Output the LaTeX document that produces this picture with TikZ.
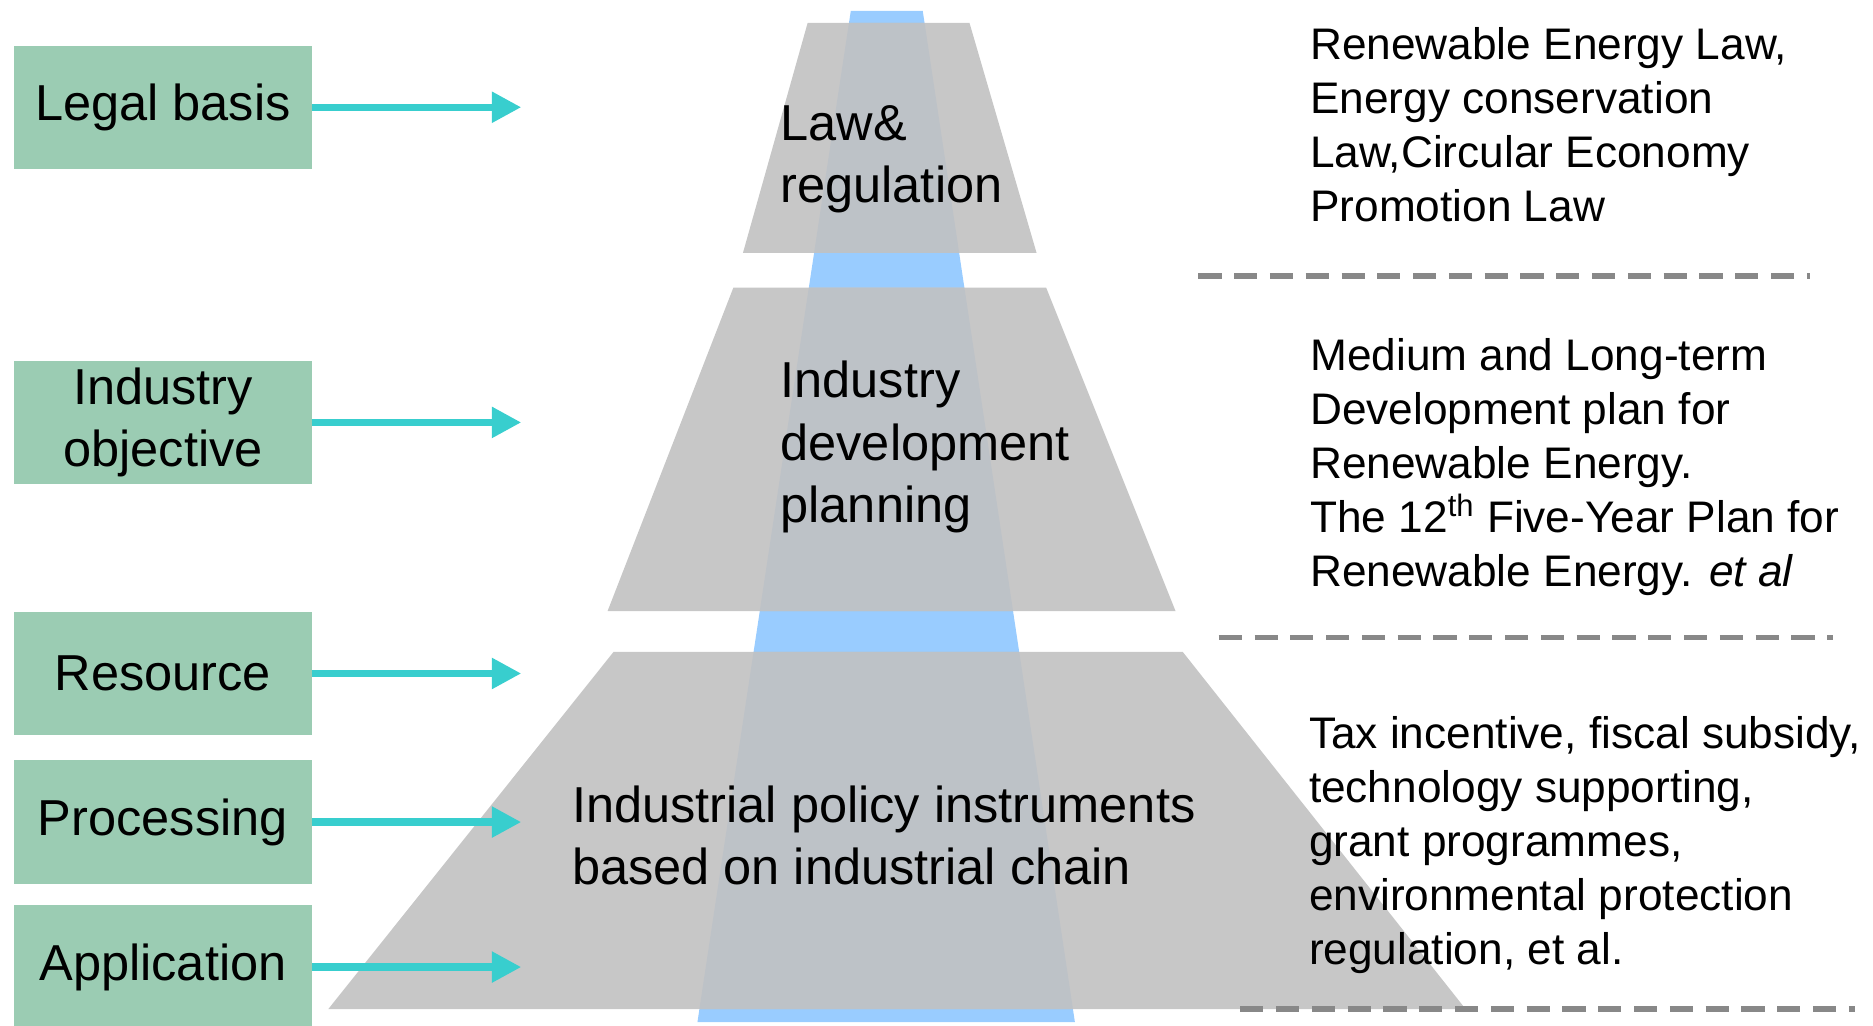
\documentclass[tikz,border=0pt]{standalone}
\usepackage{fontspec}
\setmainfont{Liberation Sans}
\usetikzlibrary{arrows.meta}
\definecolor{boxgreen}{RGB}{155,204,179}
\definecolor{arrcyan}{RGB}{56,206,206}
\definecolor{pyrgray}{RGB}{199,199,199}
\definecolor{colblue}{RGB}{153,204,255}
\definecolor{overlapc}{RGB}{189,194,199}
\definecolor{dashgray}{RGB}{136,136,136}
\begin{document}
\begin{tikzpicture}[x=0.02cm,y=-0.02cm,
  lbox/.style={fill=boxgreen,minimum width=4.96cm,minimum height=2.06cm,inner sep=0pt,align=center,font=\fontsize{24}{29.6}\selectfont},
  arr/.style={arrcyan,line width=3.4pt,-{Triangle[length=14pt,width=14pt]}},
  ptext/.style={anchor=west,align=left,inner sep=0pt,font=\fontsize{24}{29.6}\selectfont},
  rtext/.style={anchor=west,align=left,inner sep=0pt,font=\fontsize{21}{25.6}\selectfont},
  sep/.style={dashgray,line width=2.8pt,dash pattern=on 11pt off 6pt}]
\useasboundingbox (0,0) rectangle (1563,856);
% column and pyramid
\fill[colblue] (710,9) -- (770,9) -- (897,853) -- (582,853) -- cycle;
\fill[pyrgray] (674,19) -- (809,19) -- (865,211) -- (620,211) -- cycle;
\fill[pyrgray] (612,240) -- (873,240) -- (981,510) -- (507,510) -- cycle;
\fill[pyrgray] (512,544) -- (987,544) -- (1223,842) -- (274,842) -- cycle;
\begin{scope}
\clip (710,9) -- (770,9) -- (897,853) -- (582,853) -- cycle;
\fill[overlapc] (674,19) -- (809,19) -- (865,211) -- (620,211) -- cycle;
\fill[overlapc] (612,240) -- (873,240) -- (981,510) -- (507,510) -- cycle;
\fill[overlapc] (512,544) -- (987,544) -- (1223,842) -- (274,842) -- cycle;
\end{scope}
% separators
\draw[sep] (1000,230) -- (1510,230);
\draw[sep] (1017,532) -- (1530,532);
\draw[sep] (1035,842) -- (1548,842);
% left boxes
\node[lbox] (legal) at (136,89.5) {Legal basis};
\node[lbox] (objective) at (136,352.5) {Industry\\objective};
\node[lbox] (resource) at (136,562) {Resource};
\node[lbox] (processing) at (136,686) {Processing};
\node[lbox] (application) at (136,807) {Application};
\coordinate (t1) at (435,89.5);
\coordinate (t2) at (435,352.5);
\coordinate (t3) at (435,562);
\coordinate (t4) at (435,686);
\coordinate (t5) at (435,807);
\draw[arr] (legal) -- (t1);
\draw[arr] (objective) -- (t2);
\draw[arr] (resource) -- (t3);
\draw[arr] (processing) -- (t4);
\draw[arr] (application) -- (t5);
% pyramid texts
\node[ptext] (law) at (651,133) {Law\&\\regulation};
\node[ptext] (plan) at (651,373) {Industry\\development\\planning};
\node[ptext] (instr) at (477,697) {Industrial policy instruments\\based on industrial chain};
% right texts
\node[rtext] (r1) at (1093,104) {Renewable Energy Law,\\Energy conservation\\Law,Circular Economy\\Promotion Law};
\node[rtext] (r2) at (1093,390) {Medium and Long-term\\Development plan for\\Renewable Energy.\\The 12\textsuperscript{th} Five-Year Plan for\\Renewable Energy. \textit{et al}};
\node[rtext] (r3) at (1092,705) {Tax incentive, fiscal subsidy,\\technology supporting,\\grant programmes,\\environmental protection\\regulation, et al.};
\end{tikzpicture}
\end{document}
